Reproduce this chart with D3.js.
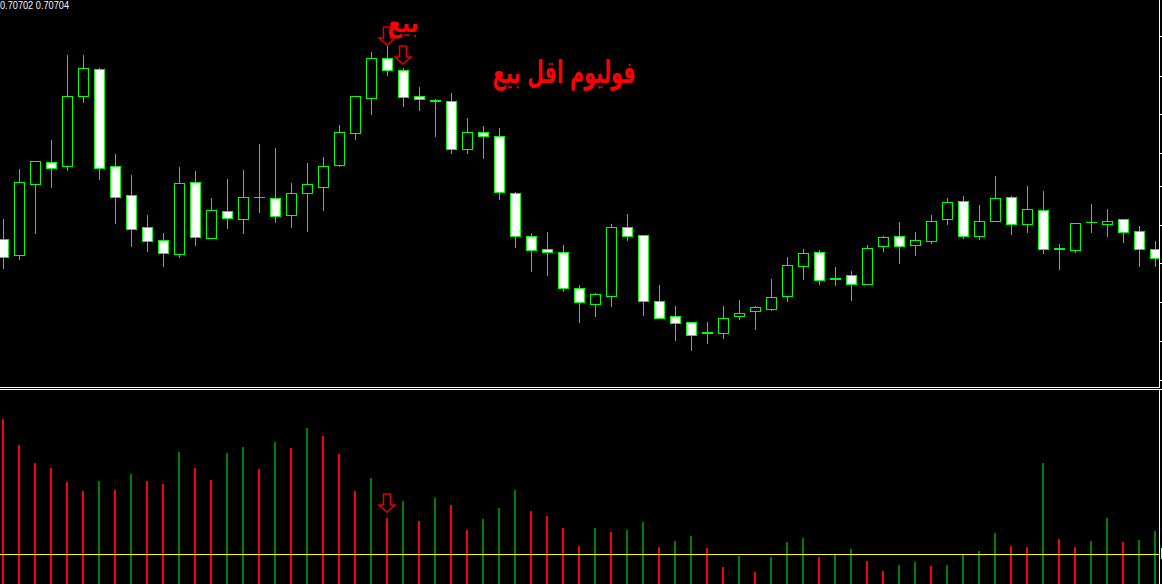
<!DOCTYPE html>
<html><head><meta charset="utf-8">
<script src="https://cdn.jsdelivr.net/npm/d3@7"></script>
<style>html,body{margin:0;padding:0;background:#000;overflow:hidden}svg{display:block}</style>
</head><body>
<script>
// ---- data ----
const opens=[0.70761,0.70745,0.70816,0.70838,0.70834,0.70904,0.70931,0.70834,0.70805,0.70773,0.70760,0.70746,0.70818,0.70762,0.70789,0.70781,0.70803,0.70802,0.70785,0.70807,0.70813,0.70835,0.70867,0.70902,0.70942,0.70930,0.70904,0.70900,0.70899,0.70851,0.70868,0.70864,0.70807,0.70764,0.70751,0.70748,0.70712,0.70696,0.70704,0.70773,0.70765,0.70699,0.70684,0.70678,0.70668,0.70667,0.70684,0.70689,0.70691,0.70704,0.70734,0.70748,0.70722,0.70725,0.70716,0.70754,0.70764,0.70755,0.70759,0.70781,0.70799,0.70764,0.70779,0.70803,0.70776,0.70790,0.70752,0.70750,0.70778,0.70776,0.70781,0.70769,0.70751];
const highs=[0.70781,0.70831,0.70839,0.70860,0.70945,0.70945,0.70932,0.70846,0.70825,0.70785,0.70767,0.70833,0.70829,0.70802,0.70821,0.70830,0.70856,0.70852,0.70817,0.70837,0.70843,0.70875,0.70904,0.70948,0.70954,0.70932,0.70913,0.70901,0.70907,0.70882,0.70874,0.70872,0.70808,0.70767,0.70768,0.70755,0.70715,0.70707,0.70776,0.70786,0.70765,0.70715,0.70694,0.70678,0.70678,0.70694,0.70700,0.70694,0.70721,0.70743,0.70751,0.70750,0.70733,0.70729,0.70755,0.70764,0.70778,0.70768,0.70785,0.70802,0.70804,0.70795,0.70824,0.70804,0.70814,0.70809,0.70756,0.70777,0.70796,0.70791,0.70781,0.70774,0.70759];
const lows=[0.70732,0.70741,0.70767,0.70813,0.70830,0.70898,0.70821,0.70777,0.70754,0.70749,0.70734,0.70743,0.70755,0.70762,0.70772,0.70767,0.70788,0.70778,0.70773,0.70769,0.70790,0.70834,0.70861,0.70886,0.70925,0.70894,0.70890,0.70864,0.70847,0.70847,0.70842,0.70801,0.70753,0.70729,0.70725,0.70709,0.70678,0.70684,0.70694,0.70760,0.70685,0.70682,0.70660,0.70650,0.70657,0.70662,0.70681,0.70671,0.70690,0.70699,0.70721,0.70716,0.70715,0.70700,0.70716,0.70749,0.70737,0.70745,0.70757,0.70776,0.70762,0.70761,0.70779,0.70766,0.70768,0.70747,0.70731,0.70748,0.70768,0.70764,0.70758,0.70734,0.70734];
const closes=[0.70743,0.70818,0.70839,0.70832,0.70904,0.70932,0.70832,0.70803,0.70771,0.70759,0.70747,0.70817,0.70763,0.70790,0.70782,0.70803,0.70803,0.70784,0.70807,0.70816,0.70834,0.70868,0.70904,0.70942,0.70930,0.70903,0.70901,0.70899,0.70851,0.70868,0.70864,0.70808,0.70764,0.70750,0.70748,0.70712,0.70698,0.70706,0.70773,0.70764,0.70699,0.70682,0.70677,0.70665,0.70667,0.70682,0.70687,0.70693,0.70703,0.70735,0.70747,0.70720,0.70721,0.70716,0.70752,0.70763,0.70754,0.70760,0.70779,0.70798,0.70764,0.70779,0.70802,0.70776,0.70791,0.70751,0.70751,0.70777,0.70778,0.70779,0.70768,0.70751,0.70742];
const volumes=[1710,1450,1270,1220,1080,990,1090,1000,1160,1090,1060,1380,1220,1100,1370,1430,1210,1480,1420,1620,1540,1360,990,1120,720,890,690,920,850,600,710,820,1000,790,740,620,440,620,580,600,680,430,490,540,420,230,340,180,330,480,520,330,350,410,290,190,250,280,240,250,350,390,570,440,430,1270,510,430,490,720,480,500,590];
const prevVolume=1800;
const volumeLevel=360;
const priceTicks=[0.70964,0.70924,0.70886,0.70847,0.70814,0.70775,0.70737,0.70698,0.70659,0.70620];
const infoText="0.70702 0.70704";
const sellArrows=[{i:24,price:0.70955},{i:25,price:0.70936}];
const volumeArrows=[{i:24,vol:780}];
const labels=[{text:"بيع",i:24.03,price:0.70968,size:27,len:31},{text:"فوليوم اقل بيع",i:30.6,price:0.70917,size:31,len:143}];

// ---- layout ----
const W=1162,H=584, axisX=1159, mainBottom=387, volTop=389;
const idx=d3.range(opens.length);
const x=d3.scaleLinear().domain([0,opens.length-1]).range([3,3+16*(opens.length-1)]);
const y=d3.scaleLinear().domain([0.71-0.00387,0.71]).range([mainBottom,0]);
const yv=d3.scaleLinear().domain([0,2000]).range([590,390]);
const GREEN="#00ff00", VGREEN="#008000", RED="#ff0000";

const svg=d3.select("body").append("svg").attr("width",W).attr("height",H);
svg.append("rect").attr("width",W).attr("height",H).attr("fill","#000");
const defs=svg.append("defs");
defs.append("clipPath").attr("id","mainClip").append("rect").attr("x",0).attr("y",0).attr("width",axisX).attr("height",mainBottom);
defs.append("clipPath").attr("id","volClip").append("rect").attr("x",0).attr("y",volTop+1).attr("width",axisX).attr("height",H-volTop);

// ---- candles ----
const main=svg.append("g").attr("clip-path","url(#mainClip)");
const cg=main.selectAll("g.c").data(idx).join("g").attr("class","c");
cg.append("line")
  .attr("x1",i=>x(i)+0.5).attr("x2",i=>x(i)+0.5)
  .attr("y1",i=>Math.round(y(highs[i]))).attr("y2",i=>Math.round(y(lows[i]))+1)
  .attr("stroke",GREEN).attr("stroke-width",1);
cg.each(function(i){
  const g=d3.select(this);
  const yo=Math.round(y(opens[i])), yc=Math.round(y(closes[i]));
  const top=Math.min(yo,yc), h=Math.abs(yo-yc);
  const bull=closes[i]>opens[i];
  if(h===0){
    g.append("line").attr("x1",x(i)-5).attr("x2",x(i)+6).attr("y1",top+0.5).attr("y2",top+0.5)
     .attr("stroke",GREEN).attr("stroke-width",1);
  } else {
    g.append("rect").attr("x",x(i)-4.5).attr("y",top+0.5).attr("width",10).attr("height",h)
     .attr("fill",bull?"#000":"#fff").attr("stroke",GREEN).attr("stroke-width",1);
  }
});

// sell arrows
function arrowPath(cx,tip){
  const s=3.5,w=8,h=18,hh=7;
  return `M${cx-s},${tip-h}L${cx+s},${tip-h}L${cx+s},${tip-hh}L${cx+w},${tip-hh}L${cx},${tip}L${cx-w},${tip-hh}L${cx-s},${tip-hh}Z`;
}
svg.append("g").selectAll("path").data(sellArrows).join("path")
  .attr("d",d=>arrowPath(x(d.i),y(d.price)))
  .attr("fill","none").attr("stroke","#e00000").attr("stroke-width",1.5);

// labels
svg.append("g").selectAll("text").data(labels).join("text")
  .attr("x",d=>x(d.i)).attr("y",d=>y(d.price))
  .attr("font-family","'DejaVu Sans'").attr("font-weight","bold")
  .attr("font-size",d=>d.size).attr("fill",RED)
  .attr("textLength",d=>d.len).attr("lengthAdjust","spacingAndGlyphs")
  .text(d=>d.text);

// ---- volume window ----
const vol=svg.append("g").attr("clip-path","url(#volClip)");
vol.selectAll("rect").data(idx).join("rect")
  .attr("x",i=>x(i)-1).attr("width",2)
  .attr("y",i=>Math.round(yv(volumes[i]))).attr("height",i=>H+10-Math.round(yv(volumes[i])))
  .attr("fill",i=>volumes[i]>(i===0?prevVolume:volumes[i-1])?VGREEN:RED);
svg.append("line").attr("x1",0).attr("x2",axisX).attr("y1",Math.round(yv(volumeLevel))+0.5).attr("y2",Math.round(yv(volumeLevel))+0.5)
  .attr("stroke","#ffff00").attr("stroke-width",1);
svg.append("rect").attr("x",axisX+2).attr("y",Math.round(yv(volumeLevel))-6).attr("width",2).attr("height",11).attr("fill","#ffff00");
svg.append("g").selectAll("path").data(volumeArrows).join("path")
  .attr("d",d=>arrowPath(x(d.i),yv(d.vol)))
  .attr("fill","none").attr("stroke","#e00000").attr("stroke-width",1.5);

// ---- frames & axes ----
svg.append("line").attr("x1",0).attr("x2",axisX+1).attr("y1",mainBottom+0.5).attr("y2",mainBottom+0.5).attr("stroke","#fff");
svg.append("line").attr("x1",0).attr("x2",W).attr("y1",volTop+0.5).attr("y2",volTop+0.5).attr("stroke","#fff");
svg.append("line").attr("x1",axisX+0.5).attr("x2",axisX+0.5).attr("y1",0).attr("y2",mainBottom+1).attr("stroke","#fff");
svg.append("line").attr("x1",axisX+0.5).attr("x2",axisX+0.5).attr("y1",volTop).attr("y2",H).attr("stroke","#fff");
const ax=svg.append("g").attr("transform",`translate(${axisX+0.5},0)`)
  .call(d3.axisRight(y).tickValues(priceTicks).tickSize(4).tickFormat(()=>""));
ax.select(".domain").remove();
ax.selectAll(".tick line").attr("stroke","#fff").attr("shape-rendering","crispEdges");

// info text
svg.append("text").attr("x",0).attr("y",8.5)
  .attr("font-family","'Liberation Sans',Arial").attr("font-size",10)
  .attr("fill","#f4f6ff").attr("textLength",69).attr("lengthAdjust","spacingAndGlyphs")
  .text(infoText);
</script>
</body></html>
